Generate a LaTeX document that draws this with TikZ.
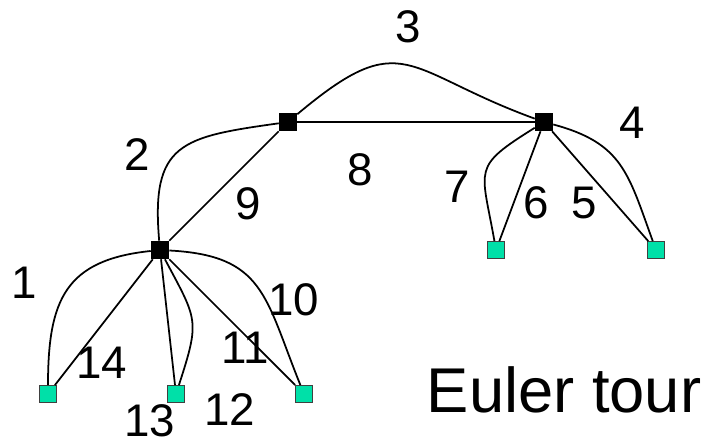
\documentclass[tikz,border=0pt]{standalone}
\usepackage{fontspec}
\setmainfont{Liberation Sans}
\usepackage{tikz}
\usetikzlibrary{arrows.meta}
\definecolor{leafgreen}{RGB}{0, 224, 168}

\tikzset{
  inner/.style={draw=black, fill=black, minimum size=0.42cm, inner sep=0pt},
  leaf/.style={draw=black!75, line width=0.7pt, fill=leafgreen, minimum size=0.42cm, inner sep=0pt},
  lbl/.style={inner sep=0pt, font=\fontsize{32.5}{36}\selectfont},
}

\begin{document}
\begin{tikzpicture}[x=0.025cm, y=0.025cm, line width=1.25pt]
    \useasboundingbox (0,0) rectangle (707,-447);

    % tree vertices
    \node[inner] (a) at (288,-122) {};
    \node[inner] (b) at (544,-122) {};
    \node[inner] (c) at (160,-250) {};
    \node[leaf] (l1) at (48,-394) {};
    \node[leaf] (l2) at (176,-394) {};
    \node[leaf] (l3) at (304,-394) {};
    \node[leaf] (r1) at (496,-250) {};
    \node[leaf] (r2) at (656,-250) {};

    % tree edges
    \draw (a) -- (b);
    \draw (a) -- (c);
    \draw (c) -- (l1);
    \draw (c) -- (l2);
    \draw (c) -- (l3);
    \draw (b) -- (r1);
    \draw (b) -- (r2);

    % tour around the tree
    \draw (a) to[out=40, in=160, looseness=1.5] (b);
    \draw (a) to[out=188, in=95, looseness=1.5] (c);
    \draw (c) to[out=186, in=90, looseness=1.3] (l1);
    \draw (c) to[out=-62, in=72, looseness=1.4] (l2);
    \draw (c) to[out=-3, in=112, looseness=1.3] (l3);
    \draw (b) to[out=212, in=100, looseness=1.6] (r1);
    \draw (b) to[out=-15, in=110, looseness=1.2] (r2);

    % step numbers
    \node[lbl] (n1) at (24,-283) {1};
    \node[lbl] (n2) at (137,-155) {2};
    \node[lbl] (n3) at (408,-27) {3};
    \node[lbl] (n4) at (632,-123) {4};
    \node[lbl] (n5) at (584,-203) {5};
    \node[lbl] (n6) at (536,-203) {6};
    \node[lbl] (n7) at (457,-187) {7};
    \node[lbl] (n8) at (360,-170) {8};
    \node[lbl] (n9) at (248,-204) {9};
    \node[lbl] (n10) at (294,-300) {10};
    \node[lbl] (n11) at (245,-348) {11};
    \node[lbl] (n12) at (230,-410) {12};
    \node[lbl] (n13) at (150,-421) {13};
    \node[lbl] (n14) at (102,-363) {14};

    \node[inner sep=0pt, anchor=base west, font=\fontsize{45}{50}\selectfont] (title) at (426,-412) {Euler tour};
\end{tikzpicture}
\end{document}
